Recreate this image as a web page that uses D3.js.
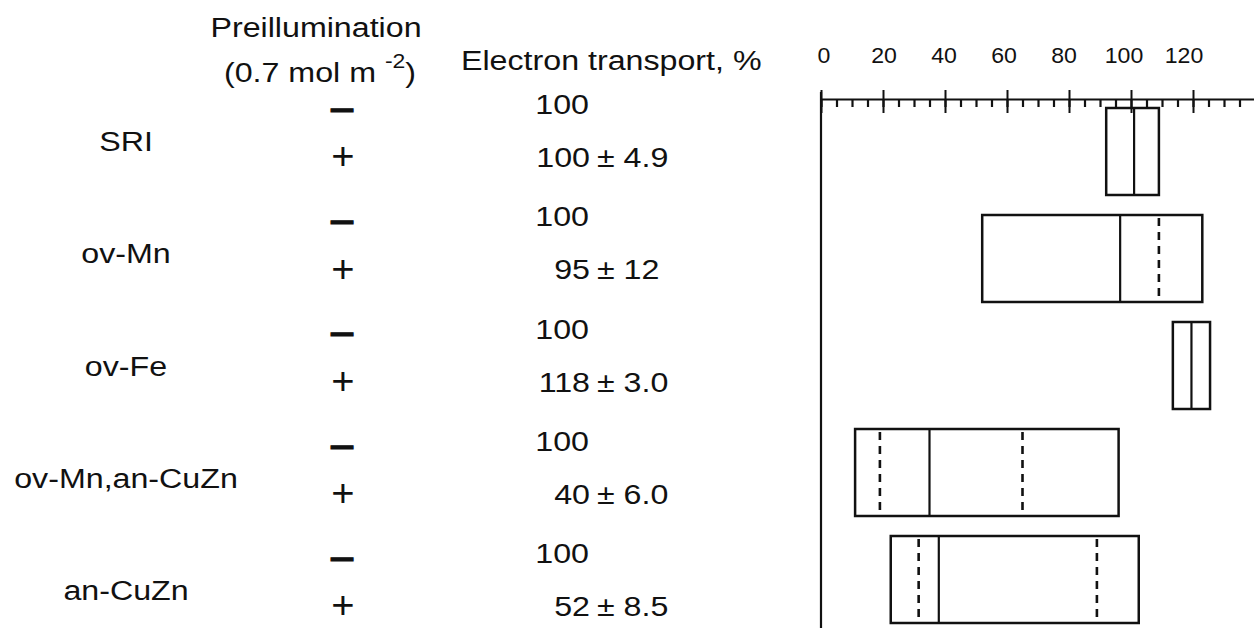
<!DOCTYPE html>
<html>
<head>
<meta charset="utf-8">
<script src="https://cdn.jsdelivr.net/npm/d3@7"></script>
<style>
  html, body { margin: 0; padding: 0; background: #fff; }
  svg { display: block; font-family: "Liberation Sans", Arial, sans-serif; }
</style>
</head>
<body>
<div id="chart"></div>
<script>
// Rows of the table / boxes
const groups = ["SRI", "ov-Mn", "ov-Fe", "ov-Mn,an-CuZn", "an-CuZn"];
const controlValue = [100, 100, 100, 100, 100];
const meanValue = [100, 95, 118, 40, 52];
const sdLabel = ["4.9", "12", "3.0", "6.0", "8.5"];

// Box extents (electron transport, %)
const boxLow = [92, 52, 113.5, 11, 22.5];
const boxHigh = [109, 123, 125.5, 96, 102.5];
const solidLine = [101, 96.5, 119.5, 35, 38];
const dashedLines = [[], [109], [], [19, 65], [31.5, 89]];

// Axis ticks
const majorTicks = [0, 20, 40, 60, 80, 100, 120, 140];
const tickLabels = [0, 20, 40, 60, 80, 100, 120];

const width = 1254;
const height = 628;
const sx = 1.15; // the scanned lettering is stretched sideways

const svg = d3.select("#chart").append("svg")
    .attr("width", width)
    .attr("height", height);

const x = d3.scaleLinear().domain([0, 140]).range([821, 1255]);

// box rows and text rows drift slightly apart in the original
const yBox = d3.scaleBand().domain(groups).range([108, 623]).paddingInner(0.187).paddingOuter(0);
const yRow = d3.scalePoint().domain(groups).range([108, 557]);

function txt(g, px, py, str, size, anchor, scaleX) {
    return g.append("text")
        .attr("transform", `translate(${px},${py}) scale(${scaleX || sx},1)`)
        .attr("font-size", size)
        .attr("text-anchor", anchor || "start")
        .attr("fill", "#111")
        .text(str);
}

// headers
const head = svg.append("g");
txt(head, 316, 37, "Preillumination", 28, "middle");
const unit = txt(head, 320, 82, "(0.7 mol m ", 28, "middle");
unit.append("tspan").attr("dy", -14).attr("font-size", 20).text("-2");
unit.append("tspan").attr("dy", 14).text(")");
txt(head, 461, 70, "Electron transport, %", 28, "start");

// table rows
const rows = svg.append("g");
groups.forEach((name, i) => {
    const y0 = yRow(name);
    txt(rows, 126, y0 + 43, name, 28, "middle");
    txt(rows, 342, y0, "\u2013", 34, "middle", 1.3)
        .attr("dy", "0.32em")
        .attr("font-weight", "bold")
        .attr("stroke", "#111")
        .attr("stroke-width", 1);
    txt(rows, 343, y0 + 48, "+", 38, "middle", 1.05).attr("dy", "0.35em");
    txt(rows, 589, y0 + 6, controlValue[i], 28, "end");
    txt(rows, 590, y0 + 59, meanValue[i], 28, "end");
    txt(rows, 597, y0 + 59, "\u00b1 " + sdLabel[i], 28, "start");
});

// axis
const axisY = 99;
const gMinor = svg.append("g")
    .attr("transform", `translate(0,${axisY})`)
    .call(d3.axisBottom(x).tickValues(d3.range(0, 141, 5)).tickSize(8).tickSizeOuter(0).tickFormat(""));
gMinor.selectAll(".tick line").attr("stroke", "#111").attr("stroke-width", 2.2);
gMinor.select(".domain").attr("stroke", "#111").attr("stroke-width", 2);

const gMajor = svg.append("g")
    .attr("transform", `translate(0,${axisY})`)
    .call(d3.axisBottom(x).tickValues(majorTicks).tickSize(14).tickSizeOuter(0).tickFormat(""));
gMajor.select(".domain").remove();
gMajor.selectAll(".tick line").attr("y1", -9).attr("stroke", "#111").attr("stroke-width", 2);

const gLab = svg.append("g");
tickLabels.forEach(v => {
    txt(gLab, x(v) + 3 - v * 0.1, 63, v, 22, "middle", 1.05);
});

// vertical axis line
svg.append("line")
    .attr("x1", x(0)).attr("x2", x(0))
    .attr("y1", 92).attr("y2", height)
    .attr("stroke", "#111").attr("stroke-width", 2.2);

// boxes
const boxes = svg.append("g").attr("fill", "none").attr("stroke", "#111");
groups.forEach((name, i) => {
    const top = yBox(name);
    const h = yBox.bandwidth();
    boxes.append("rect")
        .attr("x", x(boxLow[i]))
        .attr("y", top)
        .attr("width", x(boxHigh[i]) - x(boxLow[i]))
        .attr("height", h)
        .attr("stroke-width", 2.5);
    boxes.append("line")
        .attr("x1", x(solidLine[i])).attr("x2", x(solidLine[i]))
        .attr("y1", top).attr("y2", top + h)
        .attr("stroke-width", 2.2);
    dashedLines[i].forEach(v => {
        boxes.append("line")
            .attr("x1", x(v)).attr("x2", x(v))
            .attr("y1", top + 3).attr("y2", top + h - 3)
            .attr("stroke-width", 2.6)
            .attr("stroke-dasharray", "8,6");
    });
});
</script>
</body>
</html>
